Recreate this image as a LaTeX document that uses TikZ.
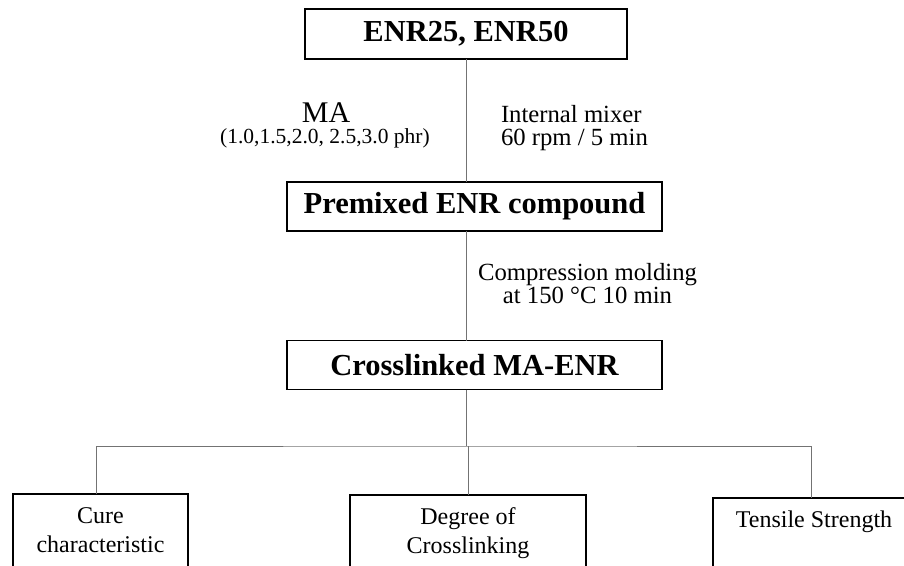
\documentclass[tikz,border=0pt]{standalone}
\usepackage{fontspec}
\setmainfont{Liberation Serif}
\usepackage{tikz}
\usetikzlibrary{positioning, calc}
\definecolor{link_gray}{RGB}{115, 115, 115}

\begin{document}
\begin{tikzpicture}[
        x=1pt, y=-1pt,
        every node/.style={inner sep=0pt, outer sep=0pt},
        box/.style={draw, line width=1.1pt, fill=white},
        link/.style={draw=link_gray, line width=0.8pt},
        title/.style={font=\fontsize{30.5}{34}\selectfont\bfseries},
        note/.style={font=\fontsize{24.7}{23}\selectfont},
        result/.style={font=\fontsize{24}{29}\selectfont, align=center, anchor=north,
            text height=#1, text depth=50pt, inner ysep=7pt}
    ]
        % -------- Area (pixel grid 904 x 565) --------
        \useasboundingbox (0,0) rectangle (904,565);
        \clip (0,0) rectangle (904,565);

        % -------- Process steps --------
        \node[box, title, minimum width=322pt, minimum height=50pt] (enr) at (466,34) {ENR25, ENR50};
        \node[box, title, minimum width=375pt, minimum height=49pt] (premix) at (474.5,206.5) {Premixed ENR compound};
        \node[box, title, minimum width=375pt, minimum height=49pt] (xlink) at (474.5,365) {Crosslinked MA-ENR};

        % -------- Conditions --------
        \node[font=\fontsize{30}{34}\selectfont, anchor=base] (ma) at (326,122) {MA};
        \node[font=\fontsize{21.5}{24}\selectfont, anchor=base] (madose) at (325,143) {(1.0,1.5,2.0, 2.5,3.0 phr)};
        \node[note, align=left, anchor=base west] (mixer) at (501,145) {Internal mixer\\60 rpm / 5 min};
        \node[note, align=center, anchor=base] (molding) at (587.5,303) {Compression molding\\at 150 °C 10 min};

        % -------- Tests --------
        \node[box, result=51pt, minimum width=175pt] (cure) at (100.5,494) {Cure\\characteristic};
        \node[box, result=51pt, minimum width=236pt] (degree) at (468,495) {Degree of\\Crosslinking};
        \node[box, result=22pt, minimum width=202pt] (tensile) at (814,498) {Tensile Strength};

        % -------- Connectors --------
        \draw[link] (enr.south) -- (enr.south |- premix.north);
        \draw[link] (premix.south -| enr.south) -- (xlink.north -| enr.south);
        \coordinate (bus) at (466,446);
        \draw[link] (xlink.south -| bus) -- (bus);
        \draw[link] ([xshift=-4.5pt]cure.north) |- (bus) -| ([xshift=-3pt]tensile.north);
        \draw[link] (degree.north |- bus) -- (degree.north);

    \end{tikzpicture}
\end{document}
